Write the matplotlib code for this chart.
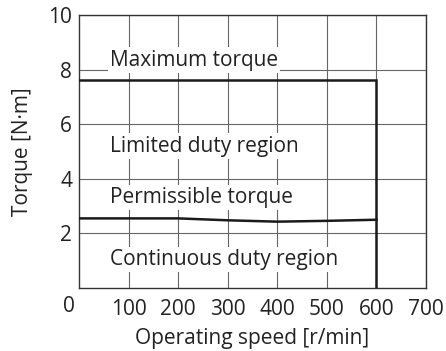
import matplotlib.pyplot as plt

# speed-torque characteristics
speed = [0, 200, 300, 400, 500, 600]
permissible = [2.55, 2.55, 2.48, 2.43, 2.46, 2.5]
max_torque = 7.62
max_speed = 600

region_labels = ["Maximum torque", "Limited duty region",
                 "Permissible torque", "Continuous duty region"]
label_y = [8.35, 5.2, 3.3, 1.03]

plt.rcParams['font.family'] = ['Open Sans', 'DejaVu Sans']
FS = 15

fig = plt.figure(figsize=(4.46, 3.51), dpi=100)
ax = fig.add_axes([79 / 446, 1 - 288 / 351, 347 / 446, 273 / 351])

ax.plot([0, max_speed, max_speed], [max_torque, max_torque, 0],
        color="#1a1a1a", lw=1.8, solid_joinstyle="miter", zorder=4)
ax.plot(speed, permissible, color="#1a1a1a", lw=1.8, zorder=4)

for txt, y in zip(region_labels, label_y):
    ax.text(62, y, txt, fontsize=FS, va="center", ha="left", color="#222222",
            zorder=3, bbox=dict(facecolor="white", edgecolor="none", pad=1.5))

ax.set_xlim(0, 700)
ax.set_ylim(0, 10)
ax.set_xticks(range(100, 701, 100))
ax.set_yticks([2, 4, 6, 8, 10])
ax.grid(color="#666666", lw=0.8)
ax.tick_params(axis="y", length=0, labelsize=FS, colors="#222222", pad=5)
ax.tick_params(axis="x", length=0, labelsize=FS, colors="#222222", pad=8)
for s in ax.spines.values():
    s.set_color("#333333")
    s.set_linewidth(1.0)
# shared origin label
ax.text(-0.03, -0.03, "0", transform=ax.transAxes, fontsize=FS,
        ha="center", va="top", color="#222222")

ax.set_xlabel("Operating speed [r/min]", fontsize=FS, color="#222222", labelpad=6)
ax.set_ylabel("Torque [N·m]", fontsize=FS, color="#222222", labelpad=11)

fig.savefig("out.png", dpi=100)
